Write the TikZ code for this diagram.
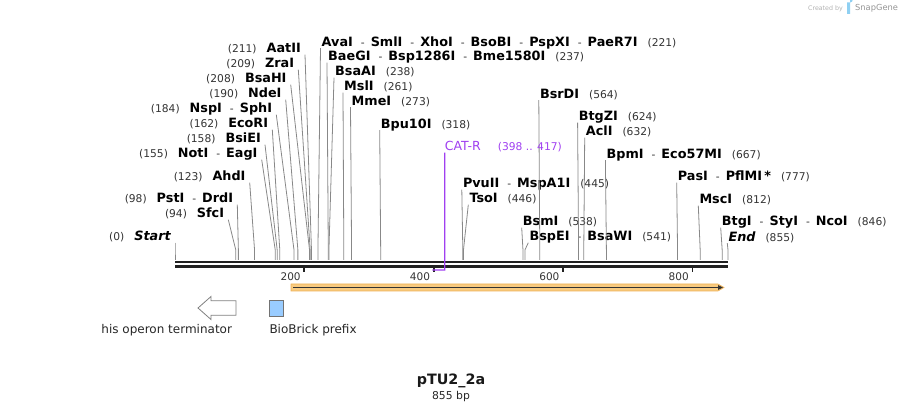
\documentclass[tikz,border=0pt]{standalone}
\usepackage{fontspec}
\setmainfont{DejaVu Sans}
\usepackage{tikz}
\usetikzlibrary{positioning}
\usetikzlibrary{arrows.meta}

\definecolor{numgray}{HTML}{333333}
\definecolor{cutgray}{HTML}{888888}
\definecolor{primer}{HTML}{A040F0}
\definecolor{featfill}{HTML}{F9CB80}
\definecolor{featdraw}{HTML}{EDB055}
\definecolor{bbpre}{HTML}{99CCFF}
\definecolor{snapblue}{HTML}{8FD0F2}

\newcommand{\nm}[1]{{\color{black}\fontsize{12.8}{14}\selectfont\bfseries #1}}
\newcommand{\nmi}[1]{{\color{black}\fontsize{12.8}{14}\selectfont\bfseries\itshape #1}}
\newcommand{\sepa}{\hspace{8pt}-\hspace{6pt}}
\newcommand{\gap}{\hspace{10pt}}

\tikzset{
  enzl/.style={anchor=base east, inner xsep=4pt, inner ysep=0pt, text depth=1.5pt, text=numgray, font=\fontsize{10.7}{12}\selectfont},
  enzr/.style={enzl, anchor=base west, inner xsep=1pt},
  cut/.style={draw=cutgray, line width=0.8pt},
  backbone/.style={draw=black!87, line width=2.6pt},
  tickmark/.style={draw=black!87, line width=1.8pt},
  ticklab/.style={anchor=base east, inner sep=0pt, text=numgray, font=\fontsize{10.5}{12}\selectfont},
  legtext/.style={anchor=base, inner sep=0pt, text=black!85, font=\fontsize{12}{14}\selectfont}
}

\begin{document}
\begin{tikzpicture}[x=1pt, y=-1pt]
\useasboundingbox (0,0) rectangle (904,411);

% sites on the sequence (175 = bp 0, 728 = bp 855)
\foreach \p in {0,94,98,123,155,158,162,184,190,208,209,211,221,237,238,261,273,318,398,417,445,446,538,541,564,624,632,667,777,812,846,855}{
  \coordinate (c\p) at ({175+0.64678*\p},250);
  \coordinate (d\p) at ({175+0.64678*\p},260);
}

% enzymes left of their lines
\node[enzl] (AatII) at (305,53) {(211)\gap\nm{AatII}};
\node[enzl] (ZraI) at (298.3,68) {(209)\gap\nm{ZraI}};
\node[enzl] (BsaHI) at (290.7,83) {(208)\gap\nm{BsaHI}};
\node[enzl] (NdeI) at (285.7,98) {(190)\gap\nm{NdeI}};
\node[enzl] (NspI) at (276.3,113) {(184)\gap\nm{NspI}\sepa\nm{SphI}};
\node[enzl] (EcoRI) at (272.3,128) {(162)\gap\nm{EcoRI}};
\node[enzl] (BsiEI) at (265,143) {(158)\gap\nm{BsiEI}};
\node[enzl] (NotI) at (261.7,158) {(155)\gap\nm{NotI}\sepa\nm{EagI}};
\node[enzl] (AhdI) at (249.7,181) {(123)\gap\nm{AhdI}};
\node[enzl] (PstI) at (237.3,203) {(98)\gap\nm{PstI}\sepa\nm{DrdI}};
\node[enzl] (SfcI) at (228.3,218) {(94)\gap\nm{SfcI}};
\node[enzl] (start) at (175,241) {(0)\gap\nmi{Start}};

% enzymes right of their lines
\node[enzr] (AvaI) at (320.5,46.5) {\nm{AvaI}\sepa\nm{SmlI}\sepa\nm{XhoI}\sepa\nm{BsoBI}\sepa\nm{PspXI}\sepa\nm{PaeR7I}\gap(221)};
\node[enzr] (BaeGI) at (327,61) {\nm{BaeGI}\sepa\nm{Bsp1286I}\sepa\nm{Bme1580I}\gap(237)};
\node[enzr] (BsaAI) at (334,76) {\nm{BsaAI}\gap(238)};
\node[enzr] (MslI) at (343,91) {\nm{MslI}\gap(261)};
\node[enzr] (MmeI) at (350.5,105.5) {\nm{MmeI}\gap(273)};
\node[enzr] (Bpu10I) at (379.7,128.5) {\nm{Bpu10I}\gap(318)};
\node[enzr] (BsrDI) at (538.8,98.5) {\nm{BsrDI}\gap(564)};
\node[enzr] (BtgZI) at (577.6,121) {\nm{BtgZI}\gap(624)};
\node[enzr] (AclI) at (584.7,136) {\nm{AclI}\gap(632)};
\node[enzr] (BpmI) at (605.4,158.5) {\nm{BpmI}\sepa\nm{Eco57MI}\gap(667)};
\node[enzr] (PvuII) at (461.8,188) {\nm{PvuII}\sepa\nm{MspA1I}\gap(445)};
\node[enzr] (TsoI) at (468.3,203) {\nm{TsoI}\gap(446)};
\node[enzr] (BsmI) at (521.7,226) {\nm{BsmI}\gap(538)};
\node[enzr] (BspEI) at (528.3,241) {\nm{BspEI}\sepa\nm{BsaWI}\gap(541)};
\node[enzr] (PasI) at (676.7,181) {\nm{PasI}\sepa\nm{PflMI\,*}\gap(777)};
\node[enzr] (MscI) at (698.3,204) {\nm{MscI}\gap(812)};
\node[enzr] (BtgI) at (720.7,226) {\nm{BtgI}\sepa\nm{StyI}\sepa\nm{NcoI}\gap(846)};
\node[enzr] (end) at (727.3,241.5) {\nmi{End}\gap(855)};

\foreach \e/\p in {AatII/211,ZraI/209,BsaHI/208,NdeI/190,NspI/184,EcoRI/162,BsiEI/158,NotI/155,AhdI/123,PstI/98,SfcI/94,start/0}
  \draw[cut] (\e.south east) -- (c\p) -- (d\p);
\foreach \e/\p in {AvaI/221,BaeGI/237,BsaAI/238,MslI/261,MmeI/273,Bpu10I/318,BsrDI/564,BtgZI/624,AclI/632,BpmI/667,PvuII/445,TsoI/446,BsmI/538,BspEI/541,PasI/777,MscI/812,BtgI/846,end/855}
  \draw[cut] (\e.south west) -- (c\p) -- (d\p);

% backbone
\draw[backbone] (175,262) -- (728,262);
\draw[backbone] (175,266.5) -- (728,266.5);
\foreach \t in {200,400,600,800}{
  \draw[tickmark] ({175+0.64678*\t},267) -- ({175+0.64678*\t},272.5);
  \node[ticklab] (t\t) at ({175+0.64678*\t-3.5},280.5) {\t};
}

% primer
\coordinate (p417) at ({175+0.64678*417},270);
\coordinate (p398) at ({175+0.64678*398},270);
\node[anchor=base west, inner sep=0pt, text depth=1.5pt, text=primer, font=\fontsize{12.5}{14}\selectfont] (catr) at (444.7,151)
  {CAT-R\hspace{17pt}{\fontsize{10.7}{12}\selectfont(398 .. 417)}};
\draw[primer, line width=1.3pt] (catr.south west) -- (p417) -- (p398);

% feature
\draw[draw=featdraw, fill=featfill, line width=0.6pt] (291,284) -- (718,284) -- (724,287.5) -- (718,291) -- (291,291) -- cycle;
\draw[black!80, line width=1.5pt, -{Triangle[length=5pt,width=4.5pt]}] (293,287.5) -- (723,287.5);

% legend
\draw[draw=black!50, fill=white, line width=0.8pt] (198,308) -- (211,296.5) -- (211,300.8) -- (236,300.8) -- (236,315.2) -- (211,315.2) -- (211,319.5) -- cycle;
\node[legtext] (his) at (166.7,333) {his operon terminator};
\draw[draw=black!55, fill=bbpre, line width=0.7pt] (269.5,300.8) rectangle (283.3,316);
\node[legtext, anchor=base west] (bbp) at (269.3,333) {BioBrick prefix};

% title
\node[anchor=base, inner sep=0pt, font=\fontsize{14.3}{16}\selectfont\bfseries, text=black!90] (title) at (451,384) {pTU2\_2a};
\node[anchor=base, inner sep=0pt, font=\fontsize{10.8}{12}\selectfont, text=black!85] (len) at (451,399) {855 bp};

% watermark
\node[anchor=base east, inner sep=0pt, font=\fontsize{6.3}{7}\selectfont, text=black!30] (made) at (843,11) {Created by};
\fill[snapblue] (847,2.5) rectangle (850,14) (850,2.5) arc (90:-90:2.8) -- cycle;
\node[anchor=base west, inner sep=0pt, font=\fontsize{8.3}{9}\selectfont, text=black!42] (snap) at (855,11) {SnapGene};

\end{tikzpicture}
\end{document}
